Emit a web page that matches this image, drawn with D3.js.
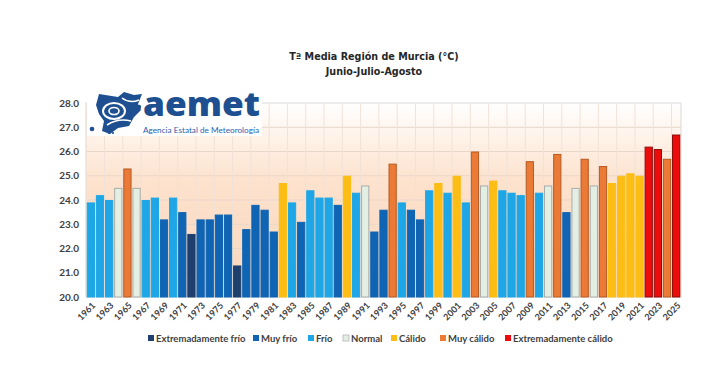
<!DOCTYPE html>
<html>
<head>
<meta charset="utf-8">
<script src="https://cdn.jsdelivr.net/npm/d3@7"></script>
<style>
  body { margin: 0; background: #fff; }
  svg { display: block; }
</style>
</head>
<body>
<div id="chart"></div>
<script>
// categories
const years = d3.range(1961, 2026);
// mean summer temperature, ºC
const temps = [
  23.9, 24.2, 24.0, 24.5, 25.3, 24.5, 24.0, 24.1, 23.2, 24.1,
  23.5, 22.6, 23.2, 23.2, 23.4, 23.4, 21.3, 22.8, 23.8, 23.6,
  22.7, 24.7, 23.9, 23.1, 24.4, 24.1, 24.1, 23.8, 25.0, 24.3,
  24.6, 22.7, 23.6, 25.5, 23.9, 23.6, 23.2, 24.4, 24.7, 24.3,
  25.0, 23.9, 26.0, 24.6, 24.8, 24.4, 24.3, 24.2, 25.6, 24.3,
  24.6, 25.9, 23.5, 24.5, 25.7, 24.6, 25.4, 24.7, 25.0, 25.1,
  25.0, 26.2, 26.1, 25.7, 26.7
];
// class of each summer
const classes = [
  'F','F','F','N','MC','N','F','F','MF','F',
  'MF','EF','MF','MF','MF','MF','EF','MF','MF','MF',
  'MF','C','F','MF','F','F','F','MF','C','F',
  'N','MF','MF','MC','F','MF','MF','F','C','F',
  'C','F','MC','N','C','F','F','F','MC','F',
  'N','MC','MF','N','MC','N','MC','C','C','C',
  'C','EC','EC','MC','EC'
];
const legendKeys = ['EF', 'MF', 'F', 'N', 'C', 'MC', 'EC'];
const legendLabels = ['Extremadamente frío', 'Muy frío', 'Frío', 'Normal', 'Cálido', 'Muy cálido', 'Extremadamente cálido'];
const yTicks = [20, 21, 22, 23, 24, 25, 26, 27, 28];

const fillOf = {
  EF: '#1f3f6e', MF: '#0f64b3', F: '#1ea6e6', N: '#e4efe4',
  C: '#fcbd14', MC: '#ea7a35', EC: '#ec0c0c'
};
const strokeOf = {
  EF: '#1f3f6e', MF: '#0f64b3', F: '#1ea6e6', N: '#a9aca9',
  C: '#fcbd14', MC: '#b65a22', EC: '#8e0a0a'
};

const width = 702, height = 373;
const margin = { top: 103, left: 86, bottom: 76, right: 21 };

const svg = d3.select('#chart').append('svg')
  .attr('width', width).attr('height', height);

const x = d3.scaleBand()
  .domain(years)
  .range([margin.left, width - margin.right])
  .paddingInner(0.1)
  .paddingOuter(0.08);

const y = d3.scaleLinear()
  .domain([20, 28])
  .range([height - margin.bottom, margin.top]);

// plot background gradient
const defs = svg.append('defs');
const grad = defs.append('linearGradient')
  .attr('id', 'bg').attr('x1', 0).attr('y1', 0).attr('x2', 0).attr('y2', 1);
grad.append('stop').attr('offset', '0%').attr('stop-color', '#ffffff');
grad.append('stop').attr('offset', '40%').attr('stop-color', '#fde2cd');
grad.append('stop').attr('offset', '100%').attr('stop-color', '#f9d6bc');

svg.append('rect')
  .attr('x', margin.left).attr('y', margin.top)
  .attr('width', width - margin.right - margin.left)
  .attr('height', y(20) - margin.top)
  .attr('fill', 'url(#bg)')
  .attr('stroke', '#d9d9d9');

// grid
svg.append('g').selectAll('line').data(yTicks.slice(1, -1)).enter()
  .append('line')
  .attr('x1', margin.left).attr('x2', width - margin.right)
  .attr('y1', d => y(d)).attr('y2', d => y(d))
  .attr('stroke', '#e8d6ca').attr('stroke-width', 1);

svg.append('g').selectAll('line').data(years.filter((d, i) => i % 2 === 0)).enter()
  .append('line')
  .attr('x1', d => x(d) - 0.5).attr('x2', d => x(d) - 0.5)
  .attr('y1', margin.top).attr('y2', y(20))
  .attr('stroke', '#f0e2d8').attr('stroke-width', 1);

// bars
svg.append('g').selectAll('rect').data(years).enter()
  .append('rect')
  .attr('x', d => x(d) + 0.5)
  .attr('y', (d, i) => y(temps[i]) + 0.5)
  .attr('width', x.bandwidth() - 1)
  .attr('height', (d, i) => y(20) - y(temps[i]) - 0.5)
  .attr('fill', (d, i) => fillOf[classes[i]])
  .attr('stroke', (d, i) => strokeOf[classes[i]])
  .attr('stroke-width', 1);

// y axis
const yAxis = d3.axisLeft(y).tickValues(yTicks).tickSize(0).tickPadding(7)
  .tickFormat(d3.format('.1f'));
svg.append('g')
  .attr('transform', 'translate(' + margin.left + ',0)')
  .call(yAxis)
  .call(g => g.select('.domain').remove())
  .selectAll('text')
  .style('font-family', 'Lato, sans-serif')
  .style('font-weight', 'bold')
  .style('font-size', '10px')
  .attr('fill', '#404040');

// x axis
const xAxis = d3.axisBottom(x)
  .tickValues(years.filter((d, i) => i % 2 === 0))
  .tickSize(0);
svg.append('g')
  .attr('transform', 'translate(0,' + y(20) + ')')
  .call(xAxis)
  .call(g => g.select('.domain').remove())
  .selectAll('text')
  .style('font-family', 'Lato, sans-serif')
  .style('font-weight', 'bold')
  .style('font-size', '9px')
  .attr('fill', '#404040')
  .attr('text-anchor', 'end')
  .attr('dy', 0)
  .attr('transform', 'translate(3,7) rotate(-45)');

// title
const title = svg.append('g')
  .style('font-family', '"DejaVu Sans", Verdana, sans-serif')
  .style('font-weight', 'bold')
  .style('font-size', '9.6px')
  .attr('fill', '#262626')
  .attr('text-anchor', 'middle');
title.append('text').attr('x', 374).attr('y', 60).text('Tª Media Región de Murcia (°C)');
title.append('text').attr('x', 374).attr('y', 75).text('Junio-Julio-Agosto');

// legend
const legendX = [148, 253, 308, 343, 391, 440, 505];
const legend = svg.append('g')
  .selectAll('g').data(legendKeys).enter()
  .append('g')
  .attr('transform', (d, i) => 'translate(' + legendX[i] + ',335)');
legend.append('rect')
  .attr('width', 6).attr('height', 6)
  .attr('fill', d => fillOf[d])
  .attr('stroke', d => d === 'N' ? '#a9aca9' : 'none')
  .attr('stroke-width', 0.7);
legend.append('text')
  .attr('x', 8).attr('y', 6.5)
  .style('font-family', 'Lato, sans-serif')
  .style('font-weight', 'bold')
  .style('font-size', '9.5px')
  .attr('fill', '#404040')
  .text((d, i) => legendLabels[i]);

// aemet logo
const logo = svg.append('g');
logo.append('rect')
  .attr('x', 87).attr('y', 92).attr('width', 175).attr('height', 44)
  .attr('fill', '#ffffff');
const blue = '#1d4f91';
logo.append('path')
  .attr('d', 'M99,94 L118,97 L124,92 L134,95 L142,94 L138,104 L141,110 L134,117 L129,126 L118,128 L110,134 L102,131 L104,121 L99,114 L96,105 Z')
  .attr('fill', blue);
logo.append('ellipse').attr('cx', 114).attr('cy', 111).attr('rx', 11).attr('ry', 8)
  .attr('fill', 'none').attr('stroke', '#fff').attr('stroke-width', 2);
logo.append('ellipse').attr('cx', 114).attr('cy', 111).attr('rx', 5).attr('ry', 3.5)
  .attr('fill', 'none').attr('stroke', '#fff').attr('stroke-width', 1.6);
logo.append('path')
  .attr('d', 'M122,98 Q130,104 139,100')
  .attr('fill', 'none').attr('stroke', '#fff').attr('stroke-width', 1.5);
logo.append('path')
  .attr('d', 'M107,125 Q118,118 131,121')
  .attr('fill', 'none').attr('stroke', '#fff').attr('stroke-width', 1.5);
logo.append('circle').attr('cx', 92).attr('cy', 129).attr('r', 2.3).attr('fill', blue);
logo.append('circle').attr('cx', 109).attr('cy', 133).attr('r', 1.1).attr('fill', blue);
logo.append('circle').attr('cx', 113).attr('cy', 133).attr('r', 1.1).attr('fill', blue);
logo.append('circle').attr('cx', 139).attr('cy', 107).attr('r', 2.2).attr('fill', blue);
logo.append('text')
  .attr('x', 143).attr('y', 116)
  .style('font-family', '"Open Sans", Lato, sans-serif')
  .style('font-weight', '800')
  .style('font-size', '33px')
  .attr('textLength', 117)
  .attr('lengthAdjust', 'spacingAndGlyphs')
  .attr('fill', blue)
  .text('aemet');
logo.append('text')
  .attr('x', 143).attr('y', 133)
  .style('font-family', 'Lato, sans-serif')
  .style('font-size', '7.5px')
  .attr('textLength', 116)
  .attr('lengthAdjust', 'spacingAndGlyphs')
  .attr('fill', '#2a62b0')
  .text('Agencia Estatal de Meteorología');
</script>
</body>
</html>
